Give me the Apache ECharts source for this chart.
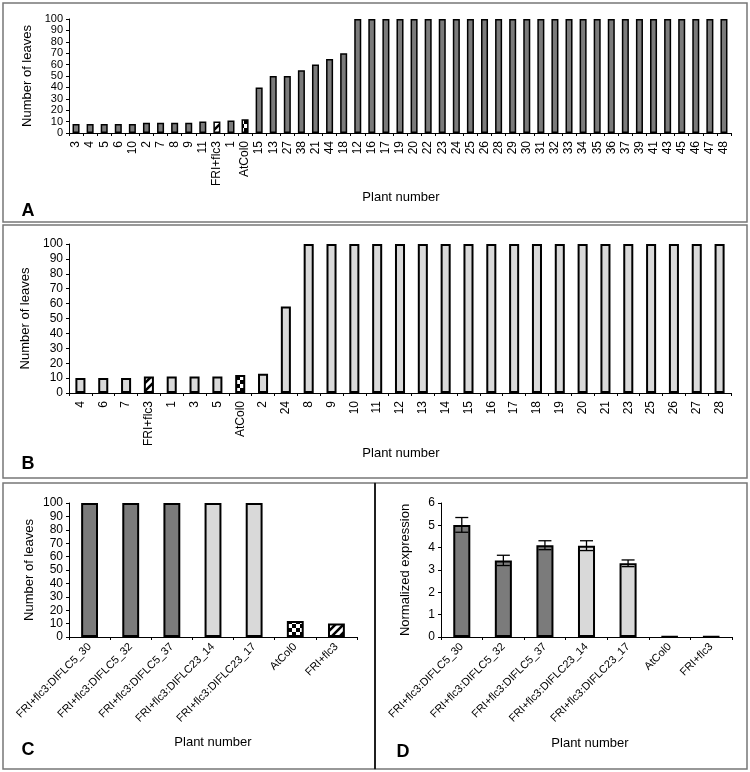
<!DOCTYPE html>
<html><head><meta charset="utf-8">
<script src="https://cdn.jsdelivr.net/npm/echarts@6/dist/echarts.min.js"></script>
<style>html,body{margin:0;padding:0;background:#fff}#c{width:750px;height:772px}</style>
</head><body><div id="c"></div>
<script>
// ---------- data ----------
const catsA = ['3','4','5','6','10','2','7','8','9','11','FRI+flc3','1','AtCol0','15','13','27','38','21','44','18','12','16','17','19','20','22','23','24','25','26','28','29','30','31','32','33','34','35','36','37','39','41','43','45','46','47','48'];
const valsA = [8,8,8,8,8,9,9,9,9,10,10,11,12,40,50,50,55,60,65,70,100,100,100,100,100,100,100,100,100,100,100,100,100,100,100,100,100,100,100,100,100,100,100,100,100,100,100];
const catsB = ['4','6','7','FRI+flc3','1','3','5','AtCol0','2','24','8','9','10','11','12','13','14','15','16','17','18','19','20','21','23','25','26','27','28'];
const valsB = [10,10,10,11,11,11,11,12,13,58,100,100,100,100,100,100,100,100,100,100,100,100,100,100,100,100,100,100,100];
const catsCD = ['FRI+flc3:DIFLC5_30','FRI+flc3:DIFLC5_32','FRI+flc3:DIFLC5_37','FRI+flc3:DIFLC23_14','FRI+flc3:DIFLC23_17','AtCol0','FRI+flc3'];
const valsC = [100,100,100,100,100,12,10];
const valsD = [5.02,3.43,4.11,4.09,3.30,0.02,0.02];
const errD  = [0.33,0.23,0.20,0.22,0.15,0,0];
const yTicksLeaves = [0,100,10];   // min,max,interval
const yTicksExpr = [0,6,1];

// ---------- styles ----------
const DARK = '#7b7b7b', LIGHT = '#d9d9d9';
function stripeCanvas(){
  const c=document.createElement('canvas');c.width=8;c.height=8;const g=c.getContext('2d');
  g.fillStyle='#fff';g.fillRect(0,0,8,8);g.strokeStyle='#000';g.lineWidth=2.5;
  g.beginPath();g.moveTo(-2,10);g.lineTo(10,-2);g.moveTo(-2,2);g.lineTo(2,-2);g.moveTo(6,10);g.lineTo(10,6);g.stroke();return c;}
function checkCanvas(){
  const c=document.createElement('canvas');c.width=8;c.height=8;const g=c.getContext('2d');
  g.fillStyle='#000';g.fillRect(0,0,8,8);g.fillStyle='#fff';g.fillRect(0,0,4,4);g.fillRect(4,4,4,4);return c;}
const STRIPE = {image: stripeCanvas(), repeat:'repeat'};
const CHECK = {image: checkCanvas(), repeat:'repeat'};
function fillFor(cat, base){ if(cat==='FRI+flc3') return STRIPE; if(cat==='AtCol0') return CHECK; return base; }

const FONT = 'Liberation Sans, Arial, sans-serif';
function yAx(gi, t, name, gap, fs){
  return {type:'value', gridIndex:gi, min:t[0], max:t[1], interval:t[2],
    name:name, nameLocation:'middle', nameGap:gap,
    nameTextStyle:{fontSize:13, color:'#000', fontFamily:FONT},
    axisLine:{show:true, lineStyle:{color:'#000', width:1}},
    axisTick:{show:true, length:3, lineStyle:{color:'#000'}},
    axisLabel:{fontSize:fs, color:'#000', fontFamily:FONT, margin:6, hideOverlap:false, lineHeight:fs, padding:0},
    splitLine:{show:false}};
}
function xAx(gi, cats, rot, fs){
  return {type:'category', gridIndex:gi, data:cats,
    axisLine:{lineStyle:{color:'#000', width:1}},
    axisTick:{show:true, length:3, lineStyle:{color:'#000'}},
    axisLabel:{rotate:rot, fontSize:fs, color:'#000', fontFamily:FONT, margin:8, interval:0, hideOverlap:false},
    splitLine:{show:false}};
}
function barSeries(gi, cats, vals, base, width, bw){
  return {type:'bar', xAxisIndex:gi, yAxisIndex:gi, barWidth:width, silent:true,
    data: vals.map((v,i)=>({value:v, itemStyle:{color: fillFor(cats[i], Array.isArray(base)?base[i]:base), borderColor:'#000', borderWidth:bw}}))};
}
const baseCD = [DARK,DARK,DARK,LIGHT,LIGHT,LIGHT,LIGHT];

const txt = (x,y,s,size,bold)=>({type:'text', x:x, y:y, style:{text:s, fontSize:size, fontWeight:bold?'bold':'normal', fill:'#000', font: (bold?'bold ':'')+size+'px '+FONT, textAlign:'center', textVerticalAlign:'middle'}});
const box = (x,y,w,h,c)=>({type:'rect', shape:{x:x,y:y,width:w,height:h}, style:{fill:'none', stroke:c||'#777', lineWidth:1.5}, silent:true});

const chart = echarts.init(document.getElementById('c'), null, {renderer:'canvas'});
chart.setOption({
  backgroundColor:'#fff',
  animation:false,
  grid:[
    {left:69, right:19, top:19, height:114},
    {left:69, right:19, top:244, height:149},
    {left:69, width:288, top:503, height:134},
    {left:441, width:291, top:503, height:134}
  ],
  xAxis:[xAx(0,catsA,90,12), xAx(1,catsB,90,12), xAx(2,catsCD,45,11), xAx(3,catsCD,45,11)],
  yAxis:[yAx(0,yTicksLeaves,'Number of leaves',33,11), yAx(1,yTicksLeaves,'Number of leaves',33,12),
         yAx(2,yTicksLeaves,'Number of leaves',33,12), yAx(3,yTicksExpr,'Normalized expression',29,12)],
  series:[
    barSeries(0,catsA,valsA,DARK,'50%',1.5),
    barSeries(1,catsB,valsB,LIGHT,'44%',2),
    barSeries(2,catsCD,valsC,baseCD,'41%',2),
    barSeries(3,catsCD,valsD,baseCD,'41%',2),
    {type:'custom', xAxisIndex:3, yAxisIndex:3, silent:true, z:5,
     data: valsD.map((v,i)=>[i,v,errD[i]]),
     renderItem:function(params, api){
       const i=api.value(0), v=api.value(1), e=api.value(2);
       if(!e) return null;
       const hi=api.coord([i,v+e]), lo=api.coord([i,v-e]);
       const hw=6.5, st={stroke:'#000', lineWidth:1.3};
       return {type:'group', children:[
         {type:'line', shape:{x1:hi[0],y1:hi[1],x2:lo[0],y2:lo[1]}, style:st},
         {type:'line', shape:{x1:hi[0]-hw,y1:hi[1],x2:hi[0]+hw,y2:hi[1]}, style:st},
         {type:'line', shape:{x1:lo[0]-hw,y1:lo[1],x2:lo[0]+hw,y2:lo[1]}, style:st}
       ]};
     }}
  ],
  graphic:[
    box(3,3,744,219), box(3,225,744,253), box(3,483,372,286), box(375,483,372,286),
    {type:'line', shape:{x1:375,y1:483,x2:375,y2:769}, style:{stroke:'#000', lineWidth:1.5}},
    txt(401,197,'Plant number',13,false), txt(28,211,'A',18,true),
    txt(401,453,'Plant number',13,false), txt(28,464,'B',18,true),
    txt(213,742,'Plant number',13,false), txt(28,750,'C',18,true),
    txt(590,743,'Plant number',13,false), txt(403,752,'D',18,true)
  ]
});
</script></body></html>
